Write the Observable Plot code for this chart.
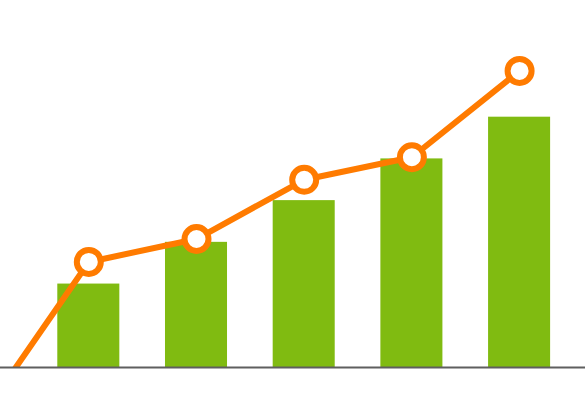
<!DOCTYPE html>
<html>
<head>
<meta charset="utf-8">
<script src="https://cdn.jsdelivr.net/npm/d3@7"></script>
<script src="https://cdn.jsdelivr.net/npm/@observablehq/plot@0.6"></script>
<style>
  html, body { margin: 0; padding: 0; background: #fff; }
  #chart svg { display: block; }
</style>
</head>
<body>
<div id="chart"></div>
<script>
// Bar series (green), one per category index 1..5
const barIndex = [1, 2, 3, 4, 5];
const barValues = [2, 3, 4, 5, 6];
// Line series (orange), starting below the baseline and clipped by the frame
const lineIndex = [0, 1, 2, 3, 4, 5];
const lineValues = [-1.2, 2.53, 3.08, 4.5, 5.04, 7.11];

const bars = barIndex.map((i, k) => ({i, v: barValues[k]}));
const line = lineIndex.map((i, k) => ({i, v: lineValues[k]}));
const markers = line.slice(1);

const halfBar = 0.288;

const chart = Plot.plot({
  width: 585,
  height: 398,
  marginTop: 0,
  marginBottom: 31,
  marginLeft: 0,
  marginRight: 0,
  x: {type: "linear", domain: [0.18, 5.612], axis: null},
  y: {domain: [0, 8.797], axis: null},
  marks: [
    Plot.rectY(bars, {x1: d => d.i - halfBar, x2: d => d.i + halfBar, y1: 0, y2: "v", fill: "#80bb11"}),
    Plot.line(line, {x: "i", y: "v", stroke: "#ff7b00", strokeWidth: 6, clip: "frame"}),
    Plot.ruleY([0], {stroke: "#5f5f5f", strokeWidth: 2}),
    Plot.dot(markers, {x: "i", y: "v", r: 12, fill: "white", stroke: "#ff7b00", strokeWidth: 6})
  ]
});
document.getElementById("chart").appendChild(chart);
</script>
</body>
</html>
